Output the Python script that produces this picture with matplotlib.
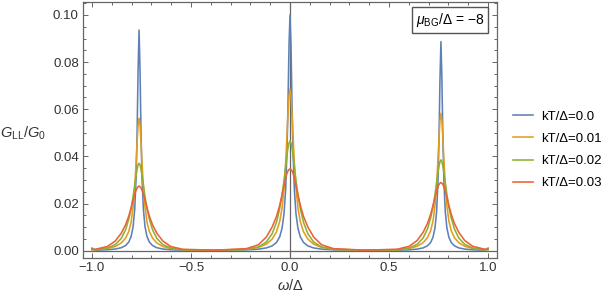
import matplotlib
matplotlib.use('Agg')
import matplotlib.pyplot as plt

plt.rcParams['font.family'] = ['Liberation Sans', 'DejaVu Sans']
plt.rcParams['mathtext.fontset'] = 'custom'
plt.rcParams['mathtext.rm'] = 'Liberation Sans'
plt.rcParams['mathtext.it'] = 'Liberation Sans:italic'

# peak positions (omega/Delta) and offsets at which the peak profiles were read
peak_pos = [-0.762, 0.0, 0.762]
offsets = [0, 0.005, 0.01, 0.015, 0.022, 0.03, 0.04, 0.052, 0.068, 0.09, 0.12, 0.16, 0.22]

labels = ['kT/\u0394=0.0', 'kT/\u0394=0.01', 'kT/\u0394=0.02', 'kT/\u0394=0.03']
colors = ['#5E81B5', '#E19C24', '#8FB032', '#EB6235']

# peak heights (left, centre, right)
heights_00 = [0.0936, 0.100, 0.0887]
heights_01 = [0.0562, 0.0685, 0.0583]
heights_02 = [0.0371, 0.0465, 0.0385]
heights_03 = [0.0274, 0.0347, 0.0289]

# relative peak profiles (fraction of peak height at each offset)
side_00 = [1, 0.815, 0.524, 0.329, 0.186, 0.109, 0.0645, 0.0392, 0.0233, 0.0134, 0.0076, 0.0043, 0.0023]
side_01 = [1, 0.946, 0.815, 0.662, 0.477, 0.329, 0.216, 0.145, 0.095, 0.058, 0.032, 0.016, 0.007]
side_02 = [1, 0.98, 0.93, 0.86, 0.75, 0.62, 0.48, 0.36, 0.24, 0.14, 0.07, 0.03, 0.01]
side_03 = [1, 0.99, 0.97, 0.94, 0.875, 0.785, 0.665, 0.535, 0.40, 0.27, 0.15, 0.065, 0.022]

centre_00 = [1, 0.871, 0.628, 0.429, 0.259, 0.158, 0.0955, 0.0588, 0.0352, 0.0204, 0.0116, 0.0066, 0.0035]
centre_01 = [1, 0.958, 0.852, 0.719, 0.543, 0.390, 0.265, 0.180, 0.118, 0.072, 0.040, 0.020, 0.009]
centre_02 = [1, 0.982, 0.94, 0.875, 0.77, 0.645, 0.51, 0.385, 0.26, 0.155, 0.078, 0.034, 0.012]
centre_03 = [1, 0.993, 0.975, 0.948, 0.885, 0.80, 0.685, 0.555, 0.42, 0.29, 0.165, 0.072, 0.025]

# values at the band edges (omega = -1, 1) and half way between peaks
edge_vals = [0.0011, 0.0006, 0.0005, 0.0005]
mid_vals = [0.0001, 0.0002, 0.0002, 0.0002]


def build_curve(heights, side, centre, edge, mid):
    xs, ys = [-1.0], [edge]
    for i, (p, h) in enumerate(zip(peak_pos, heights)):
        shape = centre if i == 1 else side
        xs += [p - d for d in offsets[::-1]] + [p + d for d in offsets[1:]]
        ys += [h * s for s in shape[::-1]] + [h * s for s in shape[1:]]
        if i < 2:
            xs.append((peak_pos[i] + peak_pos[i + 1]) / 2)
            ys.append(mid)
    xs.append(1.0)
    ys.append(edge)
    return xs, ys


curves = [
    build_curve(heights_00, side_00, centre_00, edge_vals[0], mid_vals[0]),
    build_curve(heights_01, side_01, centre_01, edge_vals[1], mid_vals[1]),
    build_curve(heights_02, side_02, centre_02, edge_vals[2], mid_vals[2]),
    build_curve(heights_03, side_03, centre_03, edge_vals[3], mid_vals[3]),
]

fig = plt.figure(figsize=(6.12, 3.01), dpi=100)
ax = fig.add_axes([83 / 612, 1 - 258 / 301, 414 / 612, 256 / 301])

frame_col = '#666666'
ax.axvline(0, color=frame_col, lw=0.9, zorder=1)
ax.axhline(0, color=frame_col, lw=0.9, zorder=1)

for (xs, ys), c, lab in zip(curves, colors, labels):
    ax.plot(xs, ys, color=c, lw=1.15, label=lab, zorder=2)

ax.set_xlim(-1.045, 1.045)
ax.set_ylim(-0.0031, 0.1055)
ax.set_xticks([-1.0, -0.5, 0.0, 0.5, 1.0])
ax.set_xticklabels(['\u22121.0', '\u22120.5', '0.0', '0.5', '1.0'])
ax.set_xticks([i / 10 for i in range(-10, 11)], minor=True)
ax.set_yticks([0.0, 0.02, 0.04, 0.06, 0.08, 0.10])
ax.set_yticklabels(['0.00', '0.02', '0.04', '0.06', '0.08', '0.10'])
ax.set_yticks([i * 0.005 for i in range(0, 22)], minor=True)

for sp in ax.spines.values():
    sp.set_color(frame_col)
    sp.set_linewidth(0.9)
ax.tick_params(which='both', direction='in', top=True, right=True,
               color=frame_col, width=0.7, labelsize=9.5, labelcolor='#333333')
ax.tick_params(which='major', length=3.5, pad=3)
ax.tick_params(which='minor', length=2)

ax.set_xlabel(r'$\omega/\Delta$', fontsize=10.5, color='#333333', labelpad=3)
fig.text(23 / 612, 1 - 133 / 301, r'$G_{\rm LL}/G_0$', fontsize=10.5,
         color='#333333', ha='center', va='center')

box_text = r'$\mu_{\rm BG}/\Delta$' + ' = \u22128'
fig.text(450 / 612, 1 - 20 / 301, box_text, fontsize=10, ha='center', va='center',
         color='black',
         bbox=dict(boxstyle='square,pad=0.3', fc='white', ec='#555555', lw=1.0))

fig.legend(loc='center left', bbox_to_anchor=(508 / 612, 1 - 150 / 301), frameon=False,
           fontsize=9.5, handlelength=1.5, handletextpad=0.6, labelspacing=0.75,
           borderaxespad=0)

fig.savefig('out.png', dpi=100)
